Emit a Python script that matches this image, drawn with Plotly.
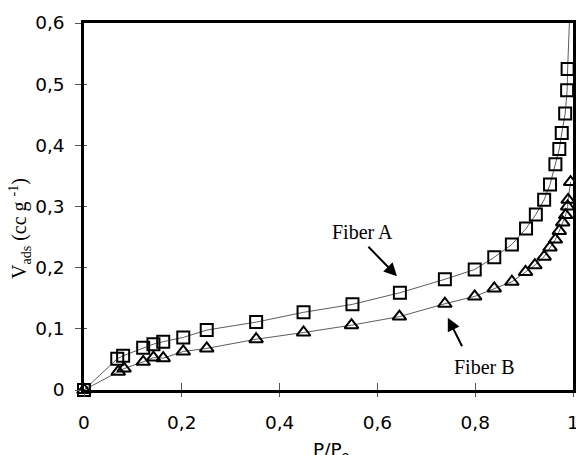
import plotly.graph_objects as go

# Fiber A (squares)
p_a = [0, 0.068, 0.080, 0.121, 0.142, 0.162, 0.203, 0.251, 0.352, 0.449, 0.549, 0.646,
       0.738, 0.799, 0.839, 0.875, 0.904, 0.924, 0.941, 0.953, 0.964, 0.972, 0.977,
       0.984, 0.988, 0.989]
v_a = [0, 0.051, 0.056, 0.069, 0.075, 0.079, 0.086, 0.098, 0.111, 0.127, 0.140, 0.159,
       0.181, 0.197, 0.217, 0.238, 0.264, 0.287, 0.311, 0.336, 0.369, 0.394, 0.420,
       0.452, 0.490, 0.525]
# fitted-curve continuation of Fiber A beyond the last point
p_a_tail = [0.989, 0.995]
v_a_tail = [0.525, 0.65]

# Fiber B (triangles)
p_b = [0, 0.070, 0.082, 0.121, 0.142, 0.162, 0.203, 0.251, 0.352, 0.449, 0.547, 0.645,
       0.738, 0.799, 0.839, 0.875, 0.903, 0.922, 0.941, 0.953, 0.964, 0.972, 0.979,
       0.985, 0.989, 0.990, 0.995]
v_b = [0, 0.030, 0.035, 0.046, 0.053, 0.052, 0.063, 0.068, 0.083, 0.094, 0.106, 0.120,
       0.141, 0.153, 0.166, 0.177, 0.193, 0.204, 0.218, 0.233, 0.246, 0.260, 0.274,
       0.286, 0.300, 0.311, 0.340]

x_ticks = [0, 0.2, 0.4, 0.6, 0.8, 1]
y_ticks = [0, 0.1, 0.2, 0.3, 0.4, 0.5, 0.6]

TICK_FONT = "DejaVu Sans"
SERIF = "Liberation Serif"

fig = go.Figure()
fig.add_trace(go.Scatter(x=p_a_tail, y=v_a_tail, mode="lines",
                         line=dict(color="#333333", width=0.8), showlegend=False))
fig.add_trace(go.Scatter(x=p_a, y=v_a, mode="lines+markers", name="Fiber A",
                         line=dict(color="#333333", width=0.8),
                         marker=dict(symbol="square-open", size=12, color="black",
                                     line=dict(width=2, color="black")),
                         cliponaxis=False, showlegend=False))
fig.add_trace(go.Scatter(x=p_b, y=v_b, mode="lines+markers", name="Fiber B",
                         line=dict(color="#333333", width=0.8),
                         marker=dict(symbol="triangle-up-open", size=12, color="black",
                                     line=dict(width=2, color="black")),
                         cliponaxis=False, showlegend=False))
# invisible trace on the overlay axes so they render
fig.add_trace(go.Scatter(x=[None], y=[None], xaxis="x2", yaxis="y2", showlegend=False))

common = dict(showgrid=False, zeroline=False, automargin=False)
fig.update_layout(
    width=576, height=455,
    margin=dict(l=84, r=3, t=23, b=65),
    paper_bgcolor="white", plot_bgcolor="white",
    separators=", ",
    xaxis=dict(range=[0, 1], tickvals=x_ticks, ticks="outside", ticklen=4,
               tickcolor="#555555", tickwidth=1,
               showline=True, linecolor="black", linewidth=2.5, mirror=True,
               tickfont=dict(family=TICK_FONT, size=18.5, color="black"),
               ticklabelstandoff=10, ticklabeloverflow="allow",
               **common),
    yaxis=dict(range=[0, 0.6], tickvals=y_ticks, ticks="outside", ticklen=6,
               tickcolor="#555555", tickwidth=1,
               showline=True, linecolor="black", linewidth=2.5, mirror=True,
               tickfont=dict(family=TICK_FONT, size=18.5, color="black"),
               ticklabelstandoff=7, ticklabeloverflow="allow",
               **common),
    xaxis2=dict(range=[0, 1], tickvals=x_ticks, ticks="inside", ticklen=7,
                tickcolor="#555555", tickwidth=1, showticklabels=False,
                overlaying="x", anchor="y", side="bottom", **common),
    yaxis2=dict(range=[0, 0.6], tickvals=y_ticks, ticks="inside", ticklen=3,
                tickcolor="#555555", tickwidth=1, showticklabels=False,
                overlaying="y", anchor="x", side="left", **common),
)

# Axis titles
fig.add_annotation(x=0.506, y=-0.128, xref="paper", yref="paper", xanchor="center",
                   yanchor="top", text="P/P<sub>o</sub>", showarrow=False,
                   font=dict(family=TICK_FONT, size=18.5, color="black"))
fig.add_annotation(x=-0.1309, y=0.4414, xref="paper", yref="paper", xanchor="center",
                   yanchor="middle", textangle=-90,
                   text="V<sub>ads</sub> (cc g <sup>-1</sup>)", showarrow=False,
                   font=dict(family=SERIF, size=20, color="black"))

# Text labels
fig.add_annotation(x=0.5685, y=0.258, xref="x", yref="y", text="Fiber A", showarrow=False,
                   font=dict(family=SERIF, size=20, color="black"))
fig.add_annotation(x=0.818, y=0.0376, xref="x", yref="y", text="Fiber B", showarrow=False,
                   font=dict(family=SERIF, size=20, color="black"))
# Arrows
fig.add_annotation(x=0.640, y=0.186, xref="x", yref="y", ax=-30, ay=-31, text="",
                   showarrow=True, arrowhead=2, arrowsize=1.3, arrowwidth=2,
                   arrowcolor="black")
fig.add_annotation(x=0.744, y=0.118, xref="x", yref="y", ax=15, ay=30, text="",
                   showarrow=True, arrowhead=2, arrowsize=1.3, arrowwidth=2,
                   arrowcolor="black")

fig.write_html("out.html", config={"displayModeBar": False},
               post_script="document.body.style.margin='0';document.body.style.overflow='hidden';")
